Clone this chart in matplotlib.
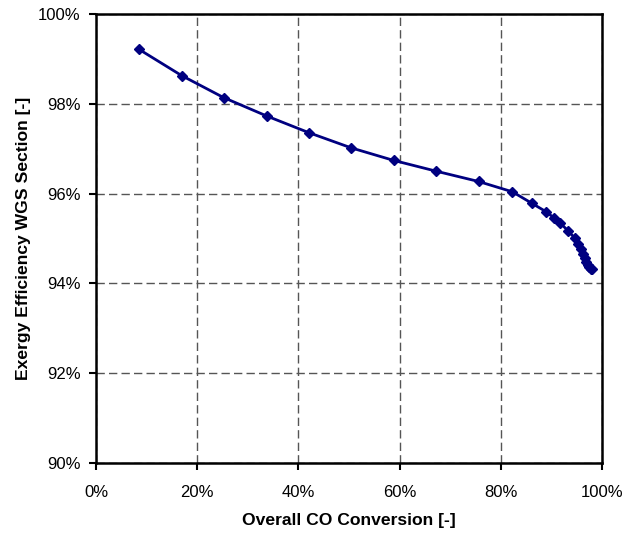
import matplotlib
matplotlib.use("Agg")
import matplotlib.pyplot as plt
from matplotlib.ticker import FuncFormatter, MultipleLocator

conversion = [8.4, 16.9, 25.2, 33.7, 42.0, 50.4, 58.8, 67.2, 75.6, 82.3, 86.2,
              88.9, 90.5, 91.7, 93.3, 94.7, 95.3, 95.8, 96.2, 96.6, 96.9, 97.2,
              97.5, 97.8, 98.0]
efficiency = [99.22, 98.63, 98.14, 97.73, 97.36, 97.02, 96.74, 96.50, 96.27, 96.04,
              95.78, 95.60, 95.46, 95.35, 95.17, 95.00, 94.88, 94.77, 94.66, 94.56,
              94.48, 94.42, 94.37, 94.33, 94.31]

plt.rcParams['font.family'] = ['Liberation Sans', 'DejaVu Sans']

fig = plt.figure(figsize=(6.37, 5.33), dpi=100)
ax = fig.add_axes([96/637, 1-463/533, (602-96)/637, (463-14)/533])

ax.plot(conversion, efficiency, color='#000080', lw=2, marker='D', ms=5.5,
        markerfacecolor='#000080', markeredgecolor='#000080', zorder=3)

ax.set_xlim(0, 100)
ax.set_ylim(90, 100)
ax.xaxis.set_major_locator(MultipleLocator(20))
ax.yaxis.set_major_locator(MultipleLocator(2))
pct = FuncFormatter(lambda v, p: f"{v:.0f}%")
ax.xaxis.set_major_formatter(pct)
ax.yaxis.set_major_formatter(pct)

ax.grid(True, color='#555555', linestyle=(0, (6, 3)), linewidth=1.0)
for s in ax.spines.values():
    s.set_linewidth(1.8)
    s.set_color('black')
ax.tick_params(direction='out', length=5, width=1.5, labelsize=12, colors='black')
ax.tick_params(axis='x', pad=11)
ax.tick_params(axis='y', pad=6)

ax.set_xlabel('Overall CO Conversion [-]', fontsize=12.6, fontweight='bold', labelpad=9)
ax.set_ylabel('Exergy Efficiency WGS Section [-]', fontsize=12.6, fontweight='bold', labelpad=5)

fig.savefig('out.png', dpi=100)
